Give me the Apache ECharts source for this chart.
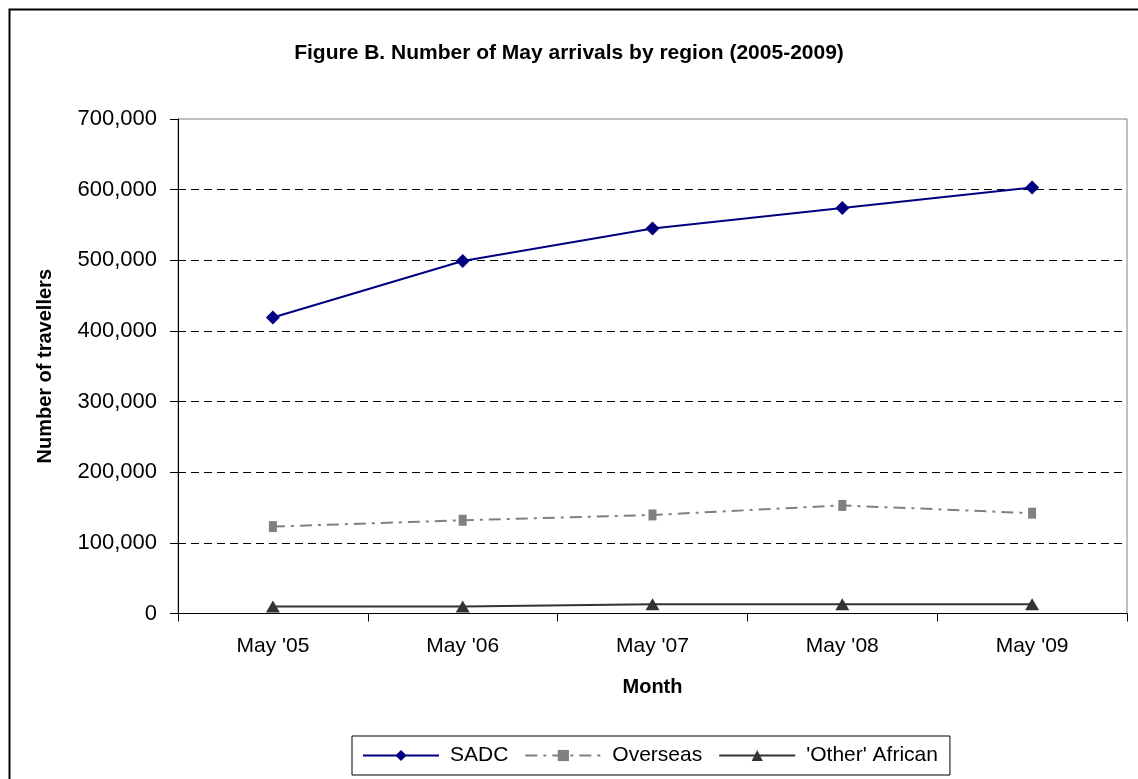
<!DOCTYPE html>
<html>
<head>
<meta charset="utf-8">
<script src="https://cdn.jsdelivr.net/npm/echarts@6/dist/echarts.min.js"></script>
<style>html,body{margin:0;padding:0;background:#fff;}#c{width:1138px;height:779px;}</style>
</head>
<body>
<div id="c"></div>
<script>
var categories = ["May '05", "May '06", "May '07", "May '08", "May '09"];
var sadc = [419000, 499000, 545000, 574000, 603000];
var overseas = [123000, 132000, 139500, 153000, 142000];
var otherAfrican = [10000, 10000, 13000, 13000, 13000];
var yTicks = [0, 100000, 200000, 300000, 400000, 500000, 600000, 700000];

var FONT = '"Liberation Sans", Arial, sans-serif';
var chart = echarts.init(document.getElementById('c'));
chart.setOption({
  animation: false,
  backgroundColor: '#fff',
  title: {
    text: 'Figure B. Number of May arrivals by region (2005-2009)',
    left: 'center', top: 38,
    textStyle: {fontFamily: FONT, fontWeight: 'bold', fontSize: 21, color: '#000'}
  },
  graphic: [{
    type: 'rect', left: 7, top: 7, silent: true,
    shape: {width: 1200, height: 900},
    style: {fill: 'none', stroke: '#000', lineWidth: 2}
  }],
  grid: {left: 178, right: 11, top: 119, bottom: 165.5, show: true, borderColor: '#808080', borderWidth: 1, backgroundColor: 'transparent'},
  legend: {
    bottom: 4, left: 352,
    padding: [9, 12, 9, 10],
    borderColor: '#000', borderWidth: 1,
    backgroundColor: '#fff',
    itemWidth: 76, itemHeight: 14, itemGap: 16,
    textStyle: {fontFamily: FONT, fontSize: 21, color: '#000', padding: [0, 0, 0, 6]},
    data: ['SADC', 'Overseas', "'Other' African"]
  },
  xAxis: {
    type: 'category', data: categories, boundaryGap: true,
    name: 'Month', nameLocation: 'middle', nameGap: 64,
    nameTextStyle: {fontFamily: FONT, fontWeight: 'bold', fontSize: 20, color: '#000'},
    axisLine: {lineStyle: {color: '#000', width: 1}},
    axisTick: {show: true, interval: 0, length: 8, lineStyle: {color: '#000'}},
    axisLabel: {fontFamily: FONT, fontSize: 21, color: '#000', margin: 22},
    splitLine: {show: false}
  },
  yAxis: {
    type: 'value', min: yTicks[0], max: yTicks[yTicks.length - 1], interval: yTicks[1] - yTicks[0],
    name: 'Number of travellers', nameLocation: 'middle', nameGap: 123, nameRotate: 90,
    nameTextStyle: {fontFamily: FONT, fontWeight: 'bold', fontSize: 20, color: '#000'},
    axisLine: {show: true, lineStyle: {color: '#000', width: 1}},
    axisTick: {show: true, length: 8, lineStyle: {color: '#000'}},
    axisLabel: {fontFamily: FONT, fontSize: 22, color: '#000', margin: 21,
      formatter: function (v) { return v.toLocaleString('en-US'); }},
    splitLine: {show: true, lineStyle: {type: [8, 5], width: 1,
      color: ['#000', '#000', '#000', '#000', '#000', '#000', '#000', 'rgba(0,0,0,0)']}}
  },
  series: [
    {
      name: 'SADC', type: 'line', data: sadc,
      symbol: 'diamond', symbolSize: 14,
      lineStyle: {color: '#000080', width: 2},
      itemStyle: {color: '#000080'}
    },
    {
      name: 'Overseas', type: 'line', data: overseas,
      symbol: 'rect', symbolSize: [8, 11],
      lineStyle: {color: '#808080', width: 2, type: [12, 6, 3, 6]},
      itemStyle: {color: '#808080'}
    },
    {
      name: "'Other' African", type: 'line', data: otherAfrican,
      symbol: 'triangle', symbolSize: [14, 12],
      lineStyle: {color: '#333333', width: 2},
      itemStyle: {color: '#333333'}
    }
  ]
});
</script>
</body>
</html>
